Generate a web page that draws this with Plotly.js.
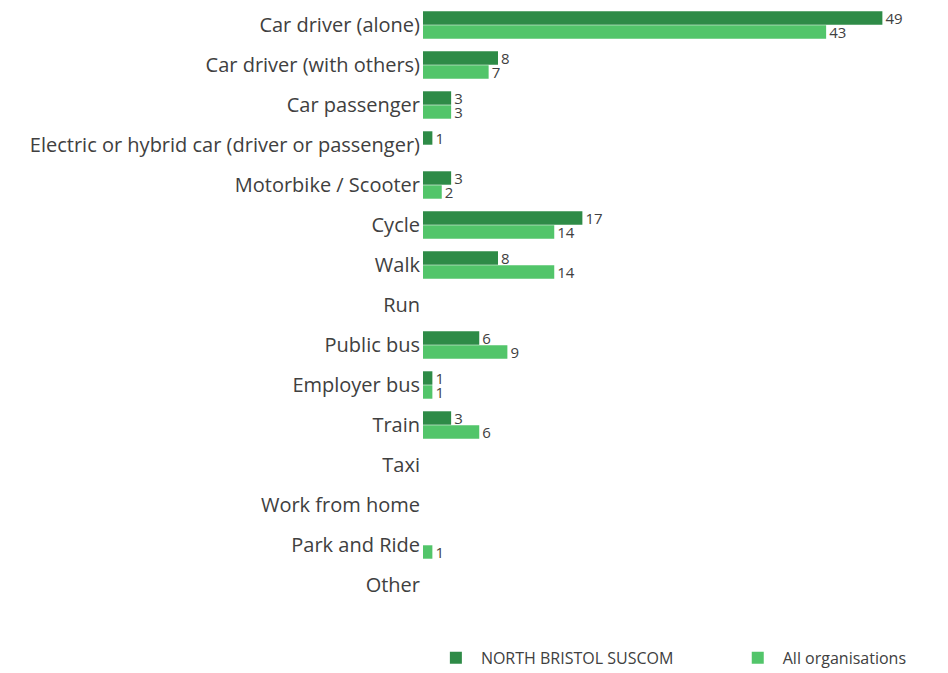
<!DOCTYPE html>
<html>
<head>
<meta charset="utf-8">
<script src="https://cdn.plot.ly/plotly-3.0.1.min.js"></script>
<style>html,body{margin:0;padding:0;background:#fff;}#chart{width:948px;height:673px;}</style>
</head>
<body>
<div id="chart"></div>
<script>
const categories = [
  "Car driver (alone)",
  "Car driver (with others)",
  "Car passenger",
  "Electric or hybrid car (driver or passenger)",
  "Motorbike / Scooter",
  "Cycle",
  "Walk",
  "Run",
  "Public bus",
  "Employer bus",
  "Train",
  "Taxi",
  "Work from home",
  "Park and Ride",
  "Other"
];
const seriesNames = ["NORTH BRISTOL SUSCOM", "All organisations"];
const northBristol = [49, 8, 3, 1, 3, 17, 8, null, 6, 1, 3, null, null, null, null];
const allOrgs = [43, 7, 3, null, 2, 14, 14, null, 9, 1, 6, null, null, 1, null];
const colors = ["#2E8B47", "#52C56A"];

const FONT = "'Open Sans', Lato, sans-serif";

function mk(vals, name, color, legendId) {
  return {
    type: "bar",
    orientation: "h",
    y: categories,
    x: vals,
    name: name,
    legend: legendId,
    marker: {color: color},
    text: vals.map(v => v == null ? "" : String(v)),
    textposition: "outside",
    constraintext: "none",
    textfont: {family: FONT, size: 15, color: "#404040"},
    cliponaxis: false,
    hoverinfo: "x+y"
  };
}

const data = [
  mk(northBristol, seriesNames[0], colors[0], "legend"),
  mk(allOrgs, seriesNames[1], colors[1], "legend2")
];

const legendBase = {
  orientation: "h",
  xanchor: "left",
  y: -0.088,
  yanchor: "middle",
  font: {family: FONT, size: 16, color: "#404040"},
  itemwidth: 40
};

const layout = {
  width: 948,
  height: 673,
  margin: {l: 423, r: 0, t: 5, b: 68, autoexpand: false},
  paper_bgcolor: "#fff",
  plot_bgcolor: "#fff",
  barmode: "group",
  bargap: 0.3,
  bargroupgap: 0.04,
  font: {family: FONT, color: "#404040"},
  xaxis: {
    range: [0, 56],
    showgrid: false,
    zeroline: false,
    showticklabels: false,
    showline: false,
    automargin: false,
    fixedrange: true
  },
  yaxis: {
    type: "category",
    autorange: "reversed",
    showgrid: false,
    zeroline: false,
    showline: false,
    ticks: "",
    automargin: false,
    tickfont: {family: FONT, size: 20, color: "#404040"},
    ticklabelstandoff: 2,
    fixedrange: true
  },
  legend: Object.assign({}, legendBase, {x: 0.015}),
  legend2: Object.assign({}, legendBase, {x: 0.59}),
  showlegend: true
};

Plotly.newPlot("chart", data, layout, {displayModeBar: false, staticPlot: true});
</script>
</body>
</html>
